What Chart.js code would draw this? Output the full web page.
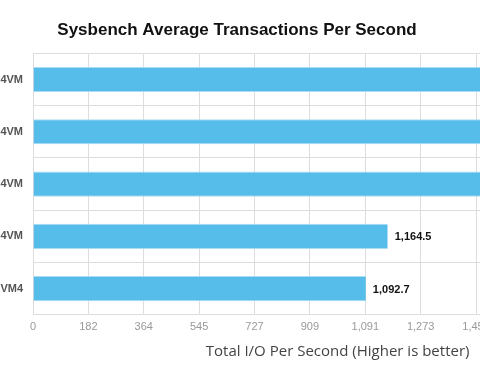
<!DOCTYPE html>
<html>
<head>
<meta charset="utf-8">
<script src="https://cdn.jsdelivr.net/npm/chart.js@4/dist/chart.umd.min.js"></script>
<style>
  html, body { margin: 0; padding: 0; background: #fff; overflow: hidden; }
  #wrap { position: absolute; left: -188px; top: 0; width: 850px; height: 382px; }
</style>
</head>
<body>
<div id="wrap"><canvas id="chart" width="850" height="382"></canvas></div>
<script>
// Chart data
const categories = ["KVM 4VM", "Xen 4VM", "ESXi 4VM", "Hyper-V 4VM", "bhyve VM4"];
const tpsValues = [1830, 1760, 1690, 1164.5, 1092.7];
const xTickLabels = ["0", "182", "364", "545", "727", "909", "1,091", "1,273", "1,455", "1,636", "1,818", "2,000"];
const xMax = 2000;

// Value labels at the end of each bar
const barLabels = {
    id: 'barLabels',
    afterDatasetsDraw(chart) {
        const ctx = chart.ctx;
        const meta = chart.getDatasetMeta(0);
        ctx.save();
        ctx.font = 'bold 11px "Liberation Sans", Arial, sans-serif';
        ctx.fillStyle = '#111';
        ctx.textBaseline = 'middle';
        meta.data.forEach((bar, i) => {
            const text = tpsValues[i].toLocaleString('en-US', { minimumFractionDigits: 1, maximumFractionDigits: 1 });
            ctx.fillText(text, bar.x + 7, bar.y + 1);
        });
        ctx.restore();
    }
};

const ctx = document.getElementById('chart').getContext('2d');
new Chart(ctx, {
    type: 'bar',
    data: {
        labels: categories,
        datasets: [{
            data: tpsValues,
            backgroundColor: '#56bdeb',
            borderColor: '#a9dcf3',
            borderWidth: { top: 1, bottom: 1, left: 0, right: 0 },
            categoryPercentage: 1,
            barPercentage: 0.48
        }]
    },
    options: {
        indexAxis: 'y',
        responsive: false,
        animation: false,
        layout: { padding: { left: 0, right: 0, top: 0, bottom: 21 } },
        plugins: {
            legend: { display: false },
            tooltip: { enabled: false },
            title: {
                display: true,
                text: 'Sysbench Average Transactions Per Second',
                color: '#111',
                font: { family: '"Liberation Sans", Arial, sans-serif', size: 17, weight: 'bold' },
                padding: { top: 20, bottom: 13 }
            }
        },
        scales: {
            x: {
                min: 0,
                max: xMax,
                afterBuildTicks: (scale) => {
                    scale.ticks = xTickLabels.map((_, i) => ({ value: i * xMax / (xTickLabels.length - 1) }));
                },
                grid: { color: '#dddddd', drawTicks: false },
                border: { color: '#dddddd' },
                ticks: {
                    padding: 6,
                    color: '#999',
                    font: { family: '"Liberation Sans", Arial, sans-serif', size: 11 },
                    maxRotation: 0,
                    autoSkip: false,
                    callback: (v, i) => xTickLabels[i]
                },
                title: {
                    display: true,
                    text: 'Total I/O Per Second (Higher is better)',
                    color: '#444',
                    font: { family: '"Open Sans", sans-serif', size: 15 },
                    padding: { top: 3, bottom: 0 }
                }
            },
            y: {
                afterFit: (scale) => { scale.width = 221; },
                grid: { color: '#dddddd', offset: true, drawTicks: false },
                border: { color: '#dddddd' },
                ticks: {
                    padding: 10,
                    color: '#555',
                    font: { family: '"Liberation Sans", Arial, sans-serif', size: 11, weight: 'bold' }
                }
            }
        }
    },
    plugins: [barLabels]
});
</script>
</body>
</html>
